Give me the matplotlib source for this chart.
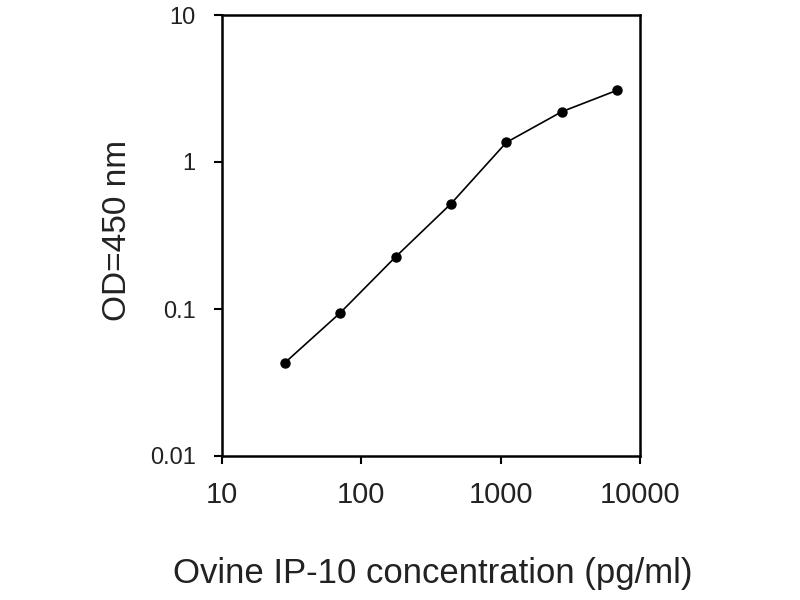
"""
ELISA standard curve: Ovine IP-10, OD at 450 nm vs concentration.
"""

import matplotlib
matplotlib.use('Agg')
import matplotlib.pyplot as plt
from matplotlib.ticker import FixedLocator, NullLocator

plt.rcParams['font.family'] = ['Liberation Sans', 'DejaVu Sans']

# Standard curve readings
concentration = [28.2, 70.4, 176, 440, 1100, 2750, 6875]   # pg/ml
od_450 = [0.043, 0.094, 0.226, 0.52, 1.36, 2.2, 3.08]

x_ticks = [10, 100, 1000, 10000]
x_tick_labels = ['10', '100', '1000', '10000']
y_ticks = [0.01, 0.1, 1, 10]
y_tick_labels = ['0.01', '0.1', '1', '10']

fig = plt.figure(figsize=(8, 6), dpi=100)
ax = fig.add_axes([0.2775, 0.24, 0.5225, 0.735])

ax.plot(concentration, od_450, '-', color='black', linewidth=1.2,
        marker='o', markersize=6.5, markerfacecolor='black', markeredgecolor='black')

ax.set_xscale('log')
ax.set_yscale('log')
ax.set_xlim(10, 10000)
ax.set_ylim(0.01, 10)

ax.xaxis.set_major_locator(FixedLocator(x_ticks))
ax.xaxis.set_minor_locator(NullLocator())
ax.set_xticklabels(x_tick_labels, fontsize=21, color='#222222')
ax.yaxis.set_major_locator(FixedLocator(y_ticks))
ax.yaxis.set_minor_locator(NullLocator())
ax.set_yticklabels(y_tick_labels, fontsize=17, color='#222222')

ax.tick_params(axis='both', direction='out', length=6, width=1.5)
ax.tick_params(axis='x', pad=12)
ax.tick_params(axis='y', pad=13)
for spine in ax.spines.values():
    spine.set_linewidth(1.8)

ax.set_xlabel('Ovine IP-10 concentration (pg/ml)', fontsize=25, color='#222222', va='top')
ax.xaxis.set_label_coords(0.503, -0.228)
ax.set_ylabel('OD=450 nm', fontsize=24, color='#222222', va='center')
ax.yaxis.set_label_coords(-0.251, 0.512)

plt.savefig('out.png', dpi=100)
plt.close()
